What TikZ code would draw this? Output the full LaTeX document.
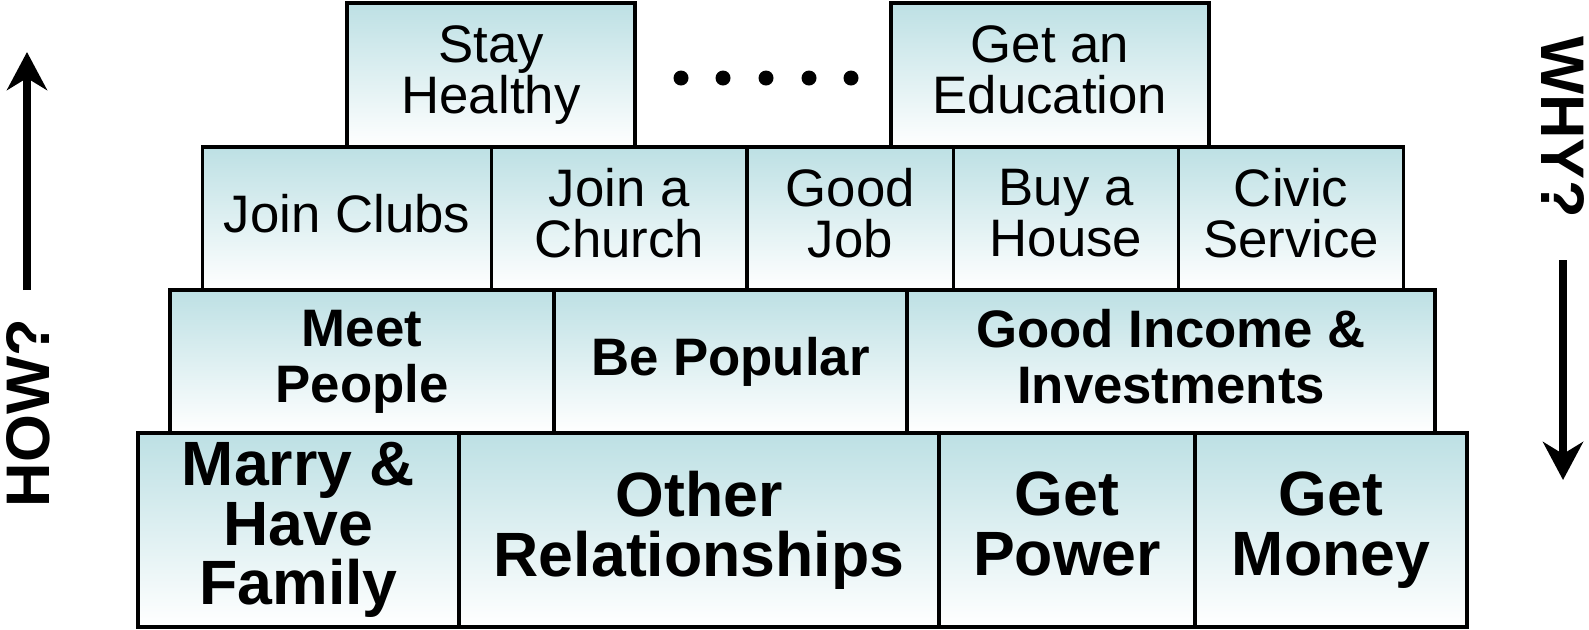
\documentclass[tikz,border=0pt]{standalone}
\usepackage{fontspec}
\setmainfont{Liberation Sans}
\usetikzlibrary{arrows.meta}
\definecolor{boxteal}{RGB}{189,224,228}
\begin{document}
\begin{tikzpicture}[x=0.01cm,y=-0.01cm,
	block/.style={draw,line width=1pt,top color=boxteal,bottom color=white,
		align=center,inner sep=0pt,outer sep=0pt,
		execute at begin node=\vphantom{Hy},execute at end node=\vphantom{Hy}},
	upper/.style={block,font=\fontsize{15}{14.5}\selectfont},
	middle/.style={block,font=\bfseries\fontsize{15}{16}\selectfont},
	lower/.style={block,font=\bfseries\fontsize{17.8}{17}\selectfont},
	side/.style={font=\bfseries\fontsize{17.5}{17.5}\selectfont,inner sep=0pt},
	dot/.style={fill,circle,inner sep=0pt,minimum size=0.15cm},
	updown/.style={line width=0.08cm,-{Stealth[length=0.38cm,width=0.40cm,inset=0.12cm]}}]
	\useasboundingbox (0,0) rectangle (1589,629);
	% top row
	\node[upper,minimum width=2.88cm,minimum height=1.44cm] (stay) at (491,75) {Stay\\Healthy};
	\node[upper,minimum width=3.18cm,minimum height=1.44cm] (edu) at (1050,75) {Get an\\Education};
	\foreach \i/\x in {1/681,2/723,3/766,4/809,5/851}
		\node[dot] (d\i) at (\x,78) {};
	% second row
	\node[upper,minimum width=2.885cm,minimum height=1.43cm] (clubs) at (347,218.5) {Join Clubs};
	\node[upper,minimum width=2.555cm,minimum height=1.43cm] (church) at (619.25,218.5) {Join a\\Church};
	\node[upper,minimum width=2.066cm,minimum height=1.43cm] (job) at (850.3,218.5) {Good\\Job};
	\node[upper,minimum width=2.25cm,minimum height=1.43cm] (house) at (1066.1,218.5) {Buy a\\House};
	\node[upper,minimum width=2.25cm,minimum height=1.43cm] (civic) at (1291.1,218.5) {Civic\\Service};
	% third row
	\node[middle,minimum width=3.84cm,minimum height=1.43cm] (meet) at (362,361.5) {Meet\\People};
	\node[middle,minimum width=3.53cm,minimum height=1.43cm] (popular) at (730.5,361.5) {Be Popular};
	\node[middle,minimum width=5.28cm,minimum height=1.43cm] (income) at (1171,361.5) {Good Income \&\\Investments};
	% bottom row
	\node[lower,minimum width=3.21cm,minimum height=1.94cm] (marry) at (298.5,530) {Marry \&\\Have\\Family};
	\node[lower,minimum width=4.80cm,minimum height=1.94cm] (other) at (699,530) {Other\\Relationships};
	\node[lower,minimum width=2.56cm,minimum height=1.94cm] (power) at (1067,530) {Get\\Power};
	\node[lower,minimum width=2.72cm,minimum height=1.94cm] (money) at (1331,530) {Get\\Money};
	% how and why
	\node[side,rotate=90] (how) at (28,413) {HOW?};
	\node[side,rotate=-90] (why) at (1563,127) {WHY?};
	\coordinate (howtail) at (27,290);
	\coordinate (howtip) at (27,52);
	\coordinate (whytail) at (1563,260);
	\coordinate (whytip) at (1563,480);
	\draw[updown] (howtail) -- (howtip);
	\draw[updown] (whytail) -- (whytip);
\end{tikzpicture}
\end{document}
